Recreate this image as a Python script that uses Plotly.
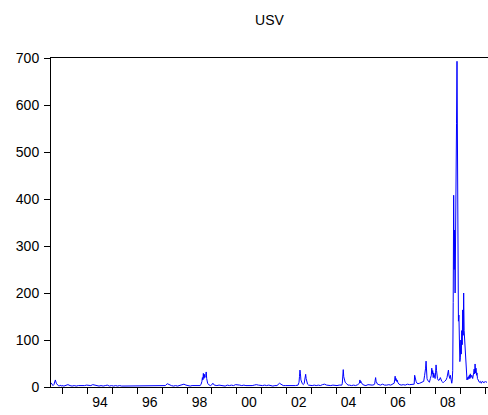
import plotly.graph_objects as go

dates = [
 "1992-07-10","1992-07-24","1992-08-07","1992-08-21","1992-09-11","1992-09-25","1992-10-09","1992-10-23",
 "1992-11-06","1992-11-20","1992-12-04","1992-12-18",
 "1993-01-15","1993-02-15","1993-03-15","1993-04-15","1993-05-15","1993-06-15","1993-07-15","1993-08-15","1993-09-15","1993-10-15","1993-11-15","1993-12-15",
 "1994-01-15","1994-02-15","1994-03-15","1994-04-15","1994-05-15","1994-06-15","1994-07-15","1994-08-15","1994-09-15","1994-10-15","1994-11-15","1994-12-15",
 "1995-01-15","1995-02-15","1995-03-15","1995-04-15","1995-05-15","1995-06-15","1995-07-15","1995-08-15","1995-09-15","1995-10-15","1995-11-15","1995-12-15",
 "1996-01-15","1996-02-15","1996-03-15","1996-04-15","1996-05-15","1996-06-15","1996-07-15","1996-08-15","1996-09-15","1996-10-15","1996-11-15","1996-12-15",
 "1997-01-15","1997-02-15","1997-03-15","1997-04-15","1997-05-15","1997-06-15","1997-07-15","1997-08-15","1997-09-15","1997-10-15","1997-11-15","1997-12-15",
 "1998-01-15","1998-02-15","1998-03-15","1998-04-15","1998-05-15","1998-06-15","1998-07-10",
 "1998-07-24","1998-07-31","1998-08-07","1998-08-14","1998-08-21","1998-08-28","1998-09-04","1998-09-11","1998-09-18","1998-09-25",
 "1998-10-02","1998-10-09","1998-10-16","1998-10-23","1998-10-30","1998-11-13","1998-11-27","1998-12-11","1998-12-25",
 "1999-01-15","1999-02-05","1999-03-15","1999-04-15","1999-05-15","1999-06-15","1999-07-15","1999-08-15","1999-09-15","1999-10-15","1999-11-15","1999-12-15",
 "2000-01-15","2000-02-15","2000-03-15","2000-04-15","2000-05-15","2000-06-15","2000-07-15","2000-08-15","2000-09-15","2000-10-15","2000-11-15","2000-12-15",
 "2001-01-15","2001-02-15","2001-03-15","2001-04-15","2001-05-15","2001-06-15","2001-07-15","2001-08-15","2001-09-21","2001-10-15","2001-11-15","2001-12-15",
 "2002-01-15","2002-02-15","2002-03-15","2002-04-15","2002-05-15",
 "2002-06-21","2002-06-28","2002-07-05","2002-07-12","2002-07-19","2002-07-26","2002-08-02","2002-08-09","2002-08-23","2002-09-06",
 "2002-09-20","2002-09-27","2002-10-04","2002-10-11","2002-10-18","2002-10-25","2002-11-08","2002-11-22","2002-12-13",
 "2003-01-15","2003-02-15","2003-03-15","2003-04-15","2003-05-15","2003-06-15","2003-07-15","2003-08-15","2003-09-15","2003-10-15","2003-11-15","2003-12-15",
 "2004-01-15","2004-02-15","2004-03-26","2004-04-02","2004-04-09","2004-04-16","2004-04-23","2004-04-30","2004-05-07","2004-05-14","2004-05-28",
 "2004-06-11","2004-06-25","2004-07-15","2004-08-15","2004-09-15","2004-10-15","2004-11-15",
 "2004-12-10","2004-12-17","2004-12-24","2004-12-31","2005-01-07","2005-01-21","2005-02-15","2005-03-15","2005-04-15","2005-05-15","2005-06-15",
 "2005-07-15","2005-07-22","2005-07-29","2005-08-05","2005-08-12","2005-08-19","2005-09-02","2005-09-23","2005-10-15","2005-11-15","2005-12-15",
 "2006-01-15","2006-02-15","2006-03-15","2006-04-15","2006-05-05","2006-05-12","2006-05-19","2006-05-26","2006-06-02","2006-06-09","2006-06-16",
 "2006-06-30","2006-07-14","2006-08-15","2006-09-15","2006-10-15","2006-11-15","2006-12-15",
 "2007-01-15","2007-02-09","2007-02-23","2007-03-02","2007-03-09","2007-03-16","2007-03-23","2007-04-06","2007-04-20","2007-05-15","2007-06-15",
 "2007-07-13","2007-07-27","2007-08-03","2007-08-10","2007-08-17","2007-08-24","2007-08-31","2007-09-07","2007-09-21","2007-10-05","2007-10-19",
 "2007-11-02","2007-11-09","2007-11-16","2007-11-23","2007-11-30","2007-12-07","2007-12-14","2007-12-28","2008-01-04","2008-01-11","2008-01-18",
 "2008-01-25","2008-02-01","2008-02-15","2008-02-29","2008-03-14","2008-03-21","2008-04-04","2008-04-18","2008-05-02","2008-05-16","2008-06-06",
 "2008-06-20","2008-06-27","2008-07-11","2008-07-18","2008-07-25","2008-08-01","2008-08-08","2008-08-15","2008-08-22","2008-08-29","2008-09-05",
 "2008-09-12","2008-09-19","2008-09-26","2008-10-03","2008-10-10","2008-10-17","2008-10-24","2008-10-31","2008-11-07","2008-11-14","2008-11-21",
 "2008-11-28","2008-12-05","2008-12-12","2008-12-19","2008-12-26","2009-01-02","2009-01-09","2009-01-16","2009-01-23","2009-01-30","2009-02-06",
 "2009-02-13","2009-02-20","2009-02-27","2009-03-06","2009-03-13","2009-03-20","2009-03-27","2009-04-03","2009-04-10","2009-04-17","2009-04-24",
 "2009-05-01","2009-05-08","2009-05-15","2009-05-22","2009-05-29","2009-06-05","2009-06-19","2009-07-03","2009-07-17","2009-07-24","2009-07-31",
 "2009-08-07","2009-08-14","2009-08-21","2009-08-28","2009-09-04","2009-09-11","2009-09-25","2009-10-09","2009-10-23","2009-11-06","2009-11-20",
 "2009-12-04","2009-12-18","2010-01-01","2010-01-15","2010-01-29",
]

usv = [
 9,4,3,5,15,8,4,3,
 2,4,2,3,
 2,4,5,3,2,3,2,3,3,2,3,4,
 4,3,5,4,3,2,3,2,3,4,2,3,
 2,3,2,3,2,2,3,2,3,2,2,3,
 2,3,2,2,3,2,2,3,2,2,3,2,
 2,3,7,4,3,2,3,2,3,4,6,4,
 3,2,3,3,2,3,3,
 5,8,12,20,15,29,18,27,20,22,
 24,32,18,12,8,5,4,3,4,
 8,4,3,4,3,3,2,4,3,4,3,5,
 5,4,3,4,3,3,2,3,4,5,4,3,
 3,4,3,4,3,2,3,3,8,5,3,3,
 3,2,3,2,3,
 4,6,10,22,36,28,15,10,7,5,
 8,15,22,27,18,12,6,4,3,
 3,4,3,4,3,5,6,4,3,3,4,3,
 3,4,4,8,20,37,22,14,12,10,8,
 6,4,4,3,4,3,5,
 8,15,9,12,10,6,4,3,5,4,4,
 5,6,14,20,12,10,6,5,4,6,4,
 4,5,4,6,8,15,23,14,18,12,15,
 9,6,4,5,4,6,5,
 5,6,6,25,18,22,12,8,7,8,10,
 12,25,30,40,55,25,18,15,12,10,18,
 25,40,28,35,20,30,22,18,30,47,35,
 25,18,14,15,20,15,12,10,10,12,15,
 20,28,36,25,22,18,25,20,12,8,15,
 35,180,408,250,334,200,420,330,560,693,500,
 151,140,153,80,54,62,100,70,120,90,164,
 110,200,120,100,64,60,43,22,15,20,16,
 22,18,25,18,28,20,25,18,30,38,28,
 49,30,40,25,30,18,15,10,12,8,12,
 10,9,12,10,11,
]

tick_vals = ["1994-07-01","1996-07-01","1998-07-01","2000-07-01","2002-07-01","2004-07-01","2006-07-01","2008-07-01"]
tick_text = ["94","96","98","00","02","04","06","08"]
y_ticks = [0,100,200,300,400,500,600,700]

fig = go.Figure()
fig.add_trace(go.Scatter(x=dates, y=usv, mode="lines",
                         line=dict(color="#0000FF", width=1), showlegend=False))

fnt = dict(family="Liberation Sans, Arial, sans-serif", size=14, color="black")
fig.update_layout(
    width=488, height=415,
    margin=dict(l=51, r=0, t=58, b=28),
    paper_bgcolor="white", plot_bgcolor="white",
    font=fnt,
    title=dict(text="USV", x=0.5, xref="paper", y=1-20/415, yref="container",
               yanchor="middle", xanchor="center", font=fnt),
)
fig.update_xaxes(
    type="date", range=["1992-07-09", "2010-02-13"],
    tickmode="array", tickvals=tick_vals, ticktext=tick_text,
    ticks="", ticklen=0, showgrid=False, zeroline=False,
    showline=True, linecolor="black", linewidth=1, mirror=True,
    tickfont=fnt, ticklabelstandoff=2,
    minor=dict(tickmode="linear", tick0="1993-01-01", dtick="M12",
               ticks="outside", ticklen=6, tickcolor="black", tickwidth=1, showgrid=False),
)
fig.update_yaxes(
    range=[0, 700], tickmode="array", tickvals=y_ticks,
    ticks="outside", ticklen=6, tickcolor="black", tickwidth=1,
    showgrid=False, zeroline=False,
    showline=True, linecolor="black", linewidth=1, mirror=False,
    tickfont=fnt, ticklabelstandoff=2,
)

fig.write_html("out.html")
